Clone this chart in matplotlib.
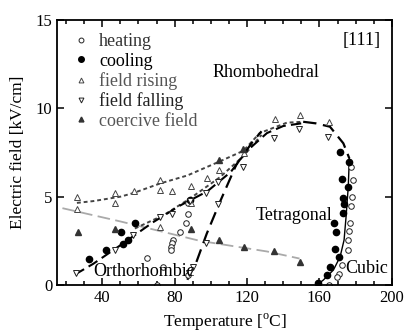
import matplotlib
matplotlib.use("Agg")
import matplotlib.pyplot as plt
from matplotlib.lines import Line2D
from matplotlib.ticker import MultipleLocator

plt.rcParams['font.family'] = ['Liberation Serif', 'DejaVu Serif']
plt.rcParams['mathtext.fontset'] = 'custom'
plt.rcParams['mathtext.rm'] = 'Liberation Serif'

# --- markers ---
heat_T = [87.5, 87.5, 86.3, 83, 79.3, 78.7, 78, 78, 64.6, 73.4, 70.4, 87.5,
          177.3, 178.4, 178.0, 177.5, 177.0, 176.5, 176.0, 175.5, 172.3, 171.0, 169.5, 165.2]
heat_E = [4.0, 4.62, 3.49, 3.02, 2.55, 2.36, 2.17, 1.98, 1.51, 1.0, 0.0, 0.57,
          6.7, 5.94, 5.0, 4.47, 3.5, 3.06, 2.55, 2.0, 1.13, 0.6, 0.47, 0.0]

cool_T = [32.9, 41.9, 51.6, 54.4, 50.2, 58.0, 88.5,
          171.4, 176.5, 172.3, 175.9, 172.8, 173.7, 173.2, 168.2, 169.1, 171.0, 168.6, 165.8, 164.3, 159.4]
cool_E = [1.5, 2.0, 2.3, 2.55, 3.0, 3.5, 4.8,
          7.55, 6.98, 5.98, 5.53, 4.94, 4.58, 4.06, 3.49, 3.02, 1.6, 2.04, 1.04, 0.57, 0.1]

rise_T = [26, 26, 47, 47, 57.5, 71.9, 71.9, 78.7, 88.8, 98, 104.5, 118.3, 135.5, 149.3, 165.4, 71.9, 88.8]
rise_E = [5.0, 4.3, 5.2, 4.65, 5.3, 5.94, 5.38, 5.32, 5.62, 6.07, 6.5, 7.45, 9.38, 9.62, 9.24, 3.3, 4.62]

fall_T = [25.3, 47, 57.2, 71.9, 78.4, 88.5, 97.3, 103.8, 103.8, 118, 97.3, 88, 90,
          134.9, 148.9, 164.9]
fall_E = [0.66, 2.0, 2.83, 3.87, 4.0, 4.75, 5.19, 5.85, 4.57, 6.7, 2.36, 0.7, 1.0,
          8.3, 8.81, 8.39]

coer_T = [26.4, 47.2, 89, 104.7, 118.5, 134.9, 149.3, 104.5, 118]
coer_E = [3.0, 3.2, 3.2, 2.55, 2.13, 1.92, 1.32, 7.1, 7.7]

# --- phase boundary lines ---
lineA_T = [26, 35, 50, 57, 72, 87, 105, 118, 127, 142, 151]
lineA_E = [4.65, 4.75, 5.0, 5.2, 5.75, 6.2, 7.0, 7.6, 8.6, 9.19, 9.24]

lineB_T = [25, 35, 50, 68, 83, 98, 111, 120, 131, 140, 150]
lineB_E = [0.6, 1.2, 2.25, 3.55, 4.5, 5.3, 6.4, 7.6, 8.6, 9.0, 9.15]

lineC_T = [58, 74, 88.5, 105, 118, 128]
lineC_E = [3.2, 3.96, 4.9, 6.1, 7.3, 8.5]

lineD_T = [87, 92, 97.7, 105, 114, 123, 128]
lineD_E = [0.3, 1.3, 2.9, 4.7, 6.8, 8.1, 8.7]

cubic_dash_T = [151, 158, 165.8, 173.2, 176.5]
cubic_dash_E = [9.24, 9.15, 8.96, 8.02, 7.17]
cubic_T = [176.5, 175.9, 174.7, 173.6, 171.4, 167.7, 162.1, 158.5]
cubic_E = [7.17, 5.56, 3.87, 2.55, 1.6, 0.85, 0.28, 0.0]

coer_line_T = [18, 50, 94, 131, 149]
coer_line_E = [4.35, 3.6, 2.5, 1.9, 1.5]

fig = plt.figure(figsize=(4.16, 3.33), dpi=100)
ax = fig.add_axes([0.137, 0.144, 0.805, 0.796])

ax.plot(coer_line_T, coer_line_E, color='#aaaaaa', lw=1.3, dashes=(7, 3))
ax.plot(lineA_T, lineA_E, color='#444444', lw=1.4, dashes=(2, 1.5))
ax.plot(lineC_T, lineC_E, color='#444444', lw=1.4, dashes=(2, 1.5))
ax.plot(lineB_T, lineB_E, color='black', lw=1.5, dashes=(5, 2.5))
ax.plot(lineD_T, lineD_E, color='black', lw=1.6, dashes=(6, 3))
ax.plot(cubic_dash_T, cubic_dash_E, color='black', lw=1.6, dashes=(6, 3))
ax.plot(cubic_T, cubic_E, color='black', lw=1.0)

ms = 4
ax.plot(heat_T, heat_E, 'o', ms=ms, mfc='white', mec='#222222', mew=0.7, ls='none')
ax.plot(cool_T, cool_E, 'o', ms=ms + 0.5, mfc='black', mec='black', ls='none')
ax.plot(rise_T, rise_E, '^', ms=ms, mfc='white', mec='#444444', mew=0.7, ls='none')
ax.plot(fall_T, fall_E, 'v', ms=ms, mfc='white', mec='#222222', mew=0.7, ls='none')
ax.plot(coer_T, coer_E, '^', ms=ms, mfc='#333333', mec='#333333', ls='none')

handles = [
    Line2D([], [], marker='o', ms=3.5, mfc='white', mec='#222222', mew=0.7, ls='none'),
    Line2D([], [], marker='o', ms=4, mfc='black', mec='black', ls='none'),
    Line2D([], [], marker='^', ms=3.5, mfc='white', mec='#444444', mew=0.7, ls='none'),
    Line2D([], [], marker='v', ms=3.5, mfc='white', mec='#222222', mew=0.7, ls='none'),
    Line2D([], [], marker='^', ms=3.5, mfc='#333333', mec='#333333', ls='none'),
]
labels = ['heating', 'cooling', 'field rising', 'field falling', 'coercive field']
ax.legend(handles, labels, loc='upper left', bbox_to_anchor=(0.013, 0.99), frameon=False,
          fontsize=13, handlelength=1.0, handletextpad=0.5, labelspacing=0.13,
          borderaxespad=0.2, labelcolor=['#333333', 'black', '#555555', '#222222', '#555555'])

ax.text(183.5, 13.85, '[111]', fontsize=13, ha='center', va='center')
ax.text(130.5, 12.05, 'Rhombohedral', fontsize=13, ha='center', va='center')
ax.text(146, 3.96, 'Tetragonal', fontsize=13, ha='center', va='center')
ax.text(63, 0.74, 'Orthorhombic', fontsize=13, ha='center', va='center')
ax.text(174, 0.96, 'Cubic', fontsize=13, ha='left', va='center')

ax.set_xlim(15, 200)
ax.set_ylim(0, 15)
ax.set_xticks([40, 80, 120, 160, 200])
ax.set_yticks([0, 5, 10, 15])
ax.xaxis.set_minor_locator(MultipleLocator(10))
ax.tick_params(which='both', direction='in', top=True, right=True, labelsize=12, width=1.1)
ax.tick_params(which='major', length=5)
ax.tick_params(which='minor', length=3)
for s in ax.spines.values():
    s.set_linewidth(1.3)

ax.set_xlabel('Temperature [$^\\mathrm{o}$C]', fontsize=12.5, labelpad=4)
ax.set_ylabel('Electric field [kV/cm]', fontsize=12.5, labelpad=7)

fig.savefig('out.png', dpi=100)
